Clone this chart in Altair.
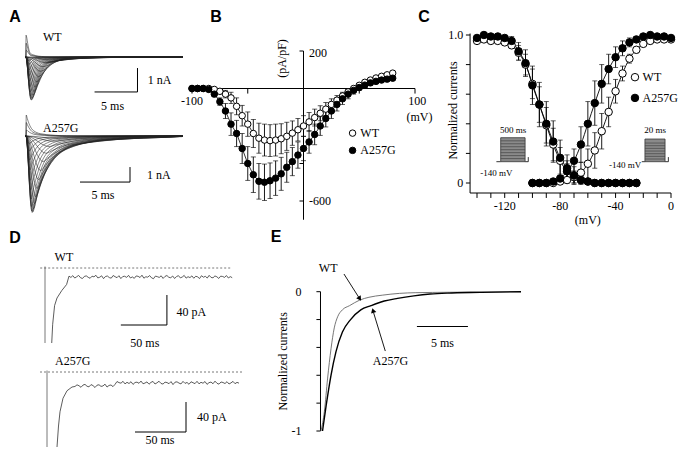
import altair as alt
import pandas as pd

# ---------------- Panel E : normalised Na+ current decays (ms from peak) ----------------
e_t_wt = [0, 0.33, 0.65, 0.98, 1.3, 1.63, 2.1, 2.8, 3.8, 4.7, 6.0, 7.7, 9.3, 12.6, 19.6]
e_wt = [-1, -0.86, -0.62, -0.41, -0.26, -0.18, -0.13, -0.10, -0.06, -0.04, -0.025, -0.012, -0.007, -0.004, 0]
e_t_ko = [0.15, 0.5, 0.98, 1.47, 2.1, 2.9, 3.9, 4.9, 6.2, 7.5, 9.1, 10.7, 12.4, 15.6, 19.6]
e_ko = [-1, -0.82, -0.6, -0.43, -0.29, -0.2, -0.13, -0.1, -0.067, -0.048, -0.03, -0.017, -0.01, -0.005, 0]

# ---------------- Panel A : current families (peak nA, time to peak ms, decay stretch) ----------------
a_wt_peak = [0.05, 0.12, 0.25, 0.42, 0.62, 0.85, 1.08, 1.3, 1.5, 1.66, 1.78, 1.86, 1.87, 1.82,
             1.7, 1.52, 1.3, 1.05, 0.8, 0.55, 0.32, 0.15, -0.3, -0.6, -0.95]
a_ko_peak = [0.15, 0.35, 0.7, 1.15, 1.7, 2.3, 2.9, 3.5, 4.05, 4.5, 4.85, 5.05, 5.1, 5.0,
             4.7, 4.2, 3.6, 2.95, 2.25, 1.6, 1.0, 0.5, -0.4, -0.9, -1.4]
a_tpeak = [3.2, 2.8, 2.4, 2.1, 1.8, 1.55, 1.35, 1.2, 1.05, 0.95, 0.85, 0.78, 0.72, 0.68,
           0.64, 0.6, 0.56, 0.53, 0.5, 0.47, 0.44, 0.4, 0.15, 0.13, 0.12]
a_stretch = [2.4, 2.2, 2.0, 1.8, 1.6, 1.45, 1.3, 1.2, 1.1, 1.0, 0.95, 0.9, 0.85, 0.8,
             0.75, 0.7, 0.66, 0.62, 0.58, 0.55, 0.52, 0.5, 0.35, 0.3, 0.3]

# ---------------- Panel B : I-V relationship (pA/pF) ----------------
b_mv = list(range(-100, 85, 5))
b_wt = [0, 0, 0, 0, -5, -15, -30, -50, -95, -145, -190, -240, -265, -275, -278, -275, -268, -255,
        -238, -220, -200, -178, -155, -132, -110, -85, -62, -40, -18, 0, 17, 33, 45, 56, 65, 73, 82]
b_wt_err = [0, 0, 0, 0, 5, 10, 20, 30, 45, 55, 65, 75, 80, 85, 85, 85, 80, 75, 65, 60, 55, 50, 45,
            40, 35, 30, 25, 20, 15, 12, 10, 8, 8, 8, 8, 8, 8]
b_ko = [0, 0, 0, -5, -30, -70, -120, -190, -240, -320, -400, -460, -495, -500, -492, -478, -455,
        -420, -390, -355, -320, -285, -245, -200, -160, -120, -85, -55, -30, -10, 5, 18, 30, 38, 45, 50, 55]
b_ko_err = [0, 0, 0, 3, 10, 20, 40, 60, 70, 80, 90, 95, 95, 97, 95, 92, 88, 80, 75, 70, 65, 60, 55,
            50, 45, 40, 35, 30, 25, 20, 15, 12, 10, 10, 10, 10, 10]

# ---------------- Panel C : inactivation / activation ----------------
c_in_mv = list(range(-140, -20, 5))
c_in_wt = [0.96, 0.97, 0.96, 0.96, 0.95, 0.93, 0.88, 0.80, 0.67, 0.53, 0.39, 0.26, 0.15, 0.08,
           0.04, 0.02, 0.01, 0, 0, 0, 0, 0, 0, 0]
c_in_wt_err = [0, 0, 0, 0, 0, 0.02, 0.05, 0.07, 0.10, 0.12, 0.12, 0.11, 0.09, 0.07, 0.04, 0.02,
               0, 0, 0, 0, 0, 0, 0, 0]
c_in_ko = [0.98, 1.0, 0.99, 0.99, 0.98, 0.96, 0.89, 0.81, 0.66, 0.53, 0.40, 0.28, 0.17, 0.10,
           0.05, 0.02, 0.01, 0, 0, 0, 0, 0, 0, 0]
c_in_ko_err = [0, 0, 0, 0, 0, 0.03, 0.06, 0.09, 0.13, 0.15, 0.15, 0.14, 0.12, 0.09, 0.06, 0.03,
               0, 0, 0, 0, 0, 0, 0, 0]
c_ac_mv = list(range(-100, 5, 5))
c_ac_wt = [0, 0, 0, 0, 0.01, 0.02, 0.04, 0.07, 0.13, 0.22, 0.35, 0.48, 0.62, 0.74, 0.84, 0.90,
           0.94, 0.96, 0.97, 0.97, 0.97]
c_ac_wt_err = [0, 0, 0, 0, 0, 0.02, 0.04, 0.07, 0.10, 0.12, 0.12, 0.10, 0.08, 0.05, 0.03, 0.02,
               0, 0, 0, 0, 0]
c_ac_ko = [0, 0, 0, 0.01, 0.03, 0.08, 0.15, 0.26, 0.40, 0.54, 0.67, 0.77, 0.85, 0.91, 0.95, 0.97,
           0.99, 1.0, 0.99, 0.99, 0.98]
c_ac_ko_err = [0, 0, 0, 0, 0.02, 0.05, 0.08, 0.12, 0.15, 0.15, 0.13, 0.10, 0.07, 0.05, 0.03, 0.02,
               0, 0, 0, 0, 0]

# ---------------- Panel D : persistent currents (pA) ----------------
d_wt_rise_t = [7, 8, 10, 12.5, 17.5, 22.5]
d_wt_rise = [-100, -75, -50, -40, -30, -22]
d_wt_level = -12
d_ko_rise_t = [10, 11.5, 13, 16, 20, 25]
d_ko_rise = [-100, -72, -53, -35, -25, -20]
d_ko_levels = [(28, -18.5), (68, -14.5)]
d_noise_wt = [1.2, -0.6, 1.8, -1.4, 0.3, 2.1, -0.9, -2.0, 0.8, 1.5, -0.4, -1.7, 1.1, 0.2, 2.3, -1.2,
              -0.3, 1.6, -2.2, 0.7, 1.3, -0.8, -1.5, 2.0, 0.4, -0.9, 1.7, -2.1, 0.6, 1.0, -0.5, 2.2,
              -1.3, 0.1, -1.8, 1.4, 0.9, -0.7, 2.4, -1.6, 0.3, -0.2, 1.9, -1.1, -2.3, 1.2, 0.5, -0.6,
              1.6, -1.9, 0.8, 2.0, -0.4, -1.0, 1.3, -2.0, 0.6, 1.8, -1.2, 0.0, 2.1, -1.5, 0.4, -0.8,
              1.5, -1.7, 1.0, 0.2, -2.1, 1.7, -0.3, 0.9, -1.4, 2.2, -0.6, -1.1, 1.4, 0.3, -1.9, 1.1,
              0.7, -0.5, 1.9, -1.3, 0.5, -0.9]
d_noise_ko = [-0.8, 1.4, 0.2, -1.9, 1.1, 2.0, -0.5, -1.3, 1.7, 0.4, -2.2, 0.9, 1.5, -0.7, -0.1, 2.3,
              -1.6, 0.6, 1.2, -1.0, -2.0, 1.8, 0.3, -0.4, 2.1, -1.4, 0.8, -0.9, 1.6, -2.1, 0.5, 1.0,
              -0.6, 2.4, -1.2, -0.2, 1.3, -1.8, 0.7, 1.9, -1.5, 0.1, 2.2, -0.8, -1.6, 1.0, 0.4, -1.1,
              1.7, -2.3, 0.9, 1.4, -0.3, -1.4, 2.0, -0.7, 0.6, -1.9, 1.5, 0.2, -1.0, 2.1, -1.3, 0.8,
              -0.5, 1.8, -2.0, 0.3, 1.1, -1.2, 2.3, -0.6, -1.7, 1.2, 0.5, -0.9, 1.6, -1.5, 0.0, 2.0,
              -1.1, 0.7, -0.4]

FONT = "Liberation Serif"
L = []


def sc(dom, rng):
    return alt.Scale(domain=dom, range=[r - 8 for r in rng], nice=False, zero=False)


def panel(xdom, xr, ydom, yr):
    return (sc(xdom, xr), sc(ydom, yr))


def xy(p):
    return dict(x=alt.X("x:Q", scale=p[0], axis=None), y=alt.Y("y:Q", scale=p[1], axis=None))


def add_line(p, df, color="black", sw=1.0, dash=None, interp="linear"):
    df = df.copy()
    df["i"] = range(len(df))
    kw = dict(color=color, strokeWidth=sw, interpolate=interp)
    if dash:
        kw["strokeDash"] = dash
    e = xy(p)
    if "g" in df.columns:
        e["detail"] = alt.Detail("g:N")
    e["order"] = alt.Order("i:Q")
    L.append(alt.Chart(df).mark_line(**kw).encode(**e))


def add_rules(p, rows, color="black", sw=1.0, dash=None):
    df = pd.DataFrame(rows, columns=["x", "y", "x2", "y2"])
    kw = dict(color=color, strokeWidth=sw)
    if dash:
        kw["strokeDash"] = dash
    e = xy(p)
    e["x2"] = alt.X2("x2:Q")
    e["y2"] = alt.Y2("y2:Q")
    L.append(alt.Chart(df).mark_rule(**kw).encode(**e))


def add_pts(p, xs, ys, fill, size):
    df = pd.DataFrame({"x": xs, "y": ys})
    L.append(alt.Chart(df).mark_circle(fill=fill, stroke="black", strokeWidth=1, size=size,
                                       opacity=1).encode(**xy(p)))


def add_err(p, xs, ys, errs, cap=5):
    rows = [(x, y - e, x, y + e) for x, y, e in zip(xs, ys, errs) if e > 0]
    add_rules(p, rows, sw=0.9)
    caps = pd.DataFrame([(r[0], r[1]) for r in rows] + [(r[0], r[3]) for r in rows], columns=["x", "y"])
    L.append(alt.Chart(caps).mark_tick(orient="horizontal", size=cap, thickness=0.9,
                                       color="black").encode(**xy(p)))


def add_text(p, rows, size=12, align="center", baseline="middle", angle=0, font=FONT,
             weight="normal"):
    df = pd.DataFrame(rows, columns=["x", "y", "t"])
    L.append(alt.Chart(df).mark_text(font=font, fontSize=size, align=align, baseline=baseline,
                                     angle=angle, fontWeight=weight, color="black")
             .encode(text="t:N", **xy(p)))


def family(peaks, tps, stretches, tt, vv, t_end):
    rows = []
    for k, (a, tp, s) in enumerate(zip(peaks, tps, stretches)):
        rows.append((k, 0.0, 0.0))
        rows.append((k, 0.1, 0.0))
        rows.append((k, tp, -a))
        for t, v in zip(tt[1:], vv[1:]):
            T = tp + s * (t - tt[0])
            if T >= t_end:
                break
            rows.append((k, T, a * v))
        rows.append((k, t_end, 0.0))
    return pd.DataFrame(rows, columns=["g", "x", "y"])


# ---------------- page panel (panel letters) ----------------
PG = panel([0, 687], [0, 687], [0, 457], [0, 457])
add_text(PG, [(15, 17, "A"), (216, 17, "B"), (424, 17, "C"), (15, 238, "D"), (276, 237, "E")],
         size=16, font="Liberation Sans", weight="bold")

# ---------------- Panel A ----------------
AW = panel([0, 18.4], [25, 183], [-2, 1], [103, 34])
AK = panel([0, 15.8], [25, 183], [-6, 2], [226, 106])
add_line(AW, family(a_wt_peak, a_tpeak, a_stretch, e_t_wt, e_wt, 18.4), color="#222", sw=0.55,
         interp="monotone")
add_line(AK, family(a_ko_peak, a_tpeak, [s * 1.1 for s in a_stretch], e_t_ko, e_ko, 15.8),
         color="#222", sw=0.55, interp="monotone")
add_rules(AW, [(13.1, -0.48, 13.1, -1.52), (8.1, -1.52, 13.1, -1.52)])
add_rules(AK, [(10.5, -2.07, 10.5, -3.07), (5.5, -3.07, 10.5, -3.07)])
add_text(AW, [(2.1, 0.87, "WT"), (14.3, -1.0, "1 nA")], align="left")
add_text(AW, [(10.2, -2.15, "5 ms")])
add_text(AK, [(1.8, 0.55, "A257G"), (12.2, -2.6, "1 nA")], align="left")
add_text(AK, [(7.8, -3.95, "5 ms")])

# ---------------- Panel B ----------------
B = panel([-100, 100], [192, 415], [-600, 200], [201, 51])
add_rules(B, [(-100, 0, 100, 0), (0, 200, 0, -700)])
add_rules(B, [(v, 0, v, -27) for v in [-100, -50, 50, 100]])
add_rules(B, [(0, v, -3.6, v) for v in [200, 0, -200, -400, -600]])
add_text(B, [(5, 192, "200"), (5, -600, "-600")], align="left")
add_text(B, [(-100, -68, "-100"), (102, -68, "100"), (104, -150, "(mV)")])
add_text(B, [(-19, 160, "(pA/pF)")], angle=270)
add_err(B, b_mv, b_wt, b_wt_err, cap=5)
add_err(B, b_mv, b_ko, b_ko_err, cap=5)
add_line(B, pd.DataFrame({"x": b_mv, "y": b_wt}), sw=0.8)
add_line(B, pd.DataFrame({"x": b_mv, "y": b_ko}), sw=0.8)
add_pts(B, b_mv, b_wt, "white", 42)
add_pts(B, b_mv, b_ko, "black", 42)
add_pts(B, [44], [-238], "white", 42)
add_pts(B, [44], [-330], "black", 42)
add_text(B, [(51, -238, "WT"), (51, -330, "A257G")], align="left")

# ---------------- Panel C ----------------
C = panel([-140, 0], [477, 671], [0, 1], [183, 35])
add_rules(C, [(-145, -0.0676, 0, -0.0676), (-145, -0.0676, -145, 1.01)])
add_rules(C, [(v, -0.0676, v, -0.101) for v in range(-140, 10, 10)])
add_rules(C, [(-145, v, -148, v) for v in [0, 0.2, 0.4, 0.6, 0.8, 1.0]])
add_text(C, [(-150, 1.0, "1.0"), (-150, 0.0, "0")], align="right")
add_text(C, [(v, -0.155, str(v)) for v in [-120, -80, -40, 0]])
add_text(C, [(-60, -0.25, "(mV)")])
add_text(C, [(-157, 0.49, "Normalized currents")], angle=270)
# protocol insets
add_rules(C, [(-126, 0.144, -122.9, 0.144), (-105.3, 0.144, -103, 0.144),
              (-103, 0.144, -103, 0.175), (-21.1, 0.144, -18.8, 0.144),
              (-4.3, 0.144, -1.9, 0.144), (-1.9, 0.144, -1.9, 0.175)], sw=0.8)
box_df = pd.DataFrame({"x": [-122.9, -18.8], "x2": [-105.3, -4.3], "y": [0.144, 0.144],
                       "y2": [0.306, 0.297]})
be = xy(C)
be["x2"] = alt.X2("x2:Q")
be["y2"] = alt.Y2("y2:Q")
L.append(alt.Chart(box_df).mark_rect(fill="#8a8a8a", stroke="#333", strokeWidth=0.8).encode(**be))
add_rules(C, [(-122.9, v, -105.3, v) for v in [0.165, 0.185, 0.205, 0.225, 0.245, 0.265, 0.285]]
          + [(-18.8, v, -4.3, v) for v in [0.162, 0.18, 0.198, 0.216, 0.234, 0.252, 0.27]],
          color="#444", sw=0.7)
add_text(C, [(-114, 0.36, "500 ms"), (-11.5, 0.36, "20 ms"), (-126, 0.07, "-140 mV")], size=9)
add_text(C, [(-21.5, 0.12, "-140 mV")], size=9, align="right")
add_err(C, c_in_mv, c_in_wt, c_in_wt_err, cap=5)
add_err(C, c_in_mv, c_in_ko, c_in_ko_err, cap=5)
add_err(C, c_ac_mv, c_ac_wt, c_ac_wt_err, cap=5)
add_err(C, c_ac_mv, c_ac_ko, c_ac_ko_err, cap=5)
for xs_, ys_ in [(c_in_mv, c_in_wt), (c_in_mv, c_in_ko), (c_ac_mv, c_ac_wt), (c_ac_mv, c_ac_ko)]:
    add_line(C, pd.DataFrame({"x": xs_, "y": ys_}), sw=0.9, interp="monotone")
add_pts(C, c_in_mv, c_in_wt, "white", 56)
add_pts(C, c_ac_mv, c_ac_wt, "white", 56)
add_pts(C, c_in_mv, c_in_ko, "black", 56)
add_pts(C, c_ac_mv, c_ac_ko, "black", 56)
add_pts(C, [-26], [0.715], "white", 56)
add_pts(C, [-26], [0.575], "black", 56)
add_text(C, [(-20.5, 0.715, "WT"), (-20.5, 0.575, "A257G")], size=12, align="left")

# ---------------- Panel D ----------------
DW = panel([0, 190], [45, 227.4], [-110, 20], [350.5, 253])
DK = panel([0, 190], [47, 237], [-110, 20], [454.5, 357])
add_rules(DW, [(-5, 0, 195, 0)], color="#555", sw=0.8, dash=[2, 2])
add_rules(DK, [(-7, 0, 196, 0)], color="#555", sw=0.8, dash=[2, 2])
add_rules(DW, [(0, 2, 0, -100)], color="#555", sw=0.8)
add_rules(DK, [(0, 2, 0, -100)], color="#555", sw=0.8)
wt_t = d_wt_rise_t + [25 + 2 * i for i in range(len(d_noise_wt))]
wt_v = d_wt_rise + [d_wt_level + n for n in d_noise_wt]
add_line(DW, pd.DataFrame({"x": wt_t, "y": wt_v}), color="#333", sw=0.8)
ko_tt = [28 + 2 * i for i in range(len(d_noise_ko))]
ko_lv = [d_ko_levels[0][1] if t < d_ko_levels[1][0] else d_ko_levels[1][1] for t in ko_tt]
ko_t = d_ko_rise_t + ko_tt
ko_v = d_ko_rise + [lv + n for lv, n in zip(ko_lv, d_noise_ko)]
add_line(DK, pd.DataFrame({"x": ko_t, "y": ko_v}), color="#333", sw=0.8)
add_rules(DW, [(127, -36, 127, -76), (79, -76, 127, -76)])
add_rules(DK, [(139, -40, 139, -80), (88, -80, 139, -80)])
add_text(DW, [(10, 15, "WT"), (137, -58, "40 pA")], align="left")
add_text(DW, [(104, -100, "50 ms")])
add_text(DK, [(8, 15, "A257G"), (150, -60, "40 pA")], align="left")
add_text(DK, [(113, -91, "50 ms")])

# ---------------- Panel E ----------------
E = panel([0, 19.6], [321, 521], [-1, 0], [431, 291.7])
add_rules(E, [(-0.05, 0, -0.05, -1)])
add_rules(E, [(-0.05, v, -0.45, v) for v in [0, -0.2, -0.4, -0.6, -0.8, -1]])
add_text(E, [(-1.9, 0, "0"), (-1.9, -1, "-1")], align="right")
add_text(E, [(-3.7, -0.5, "Normalized currents")], angle=270)
add_line(E, pd.DataFrame({"x": e_t_wt, "y": e_wt}), color="#666", sw=0.9, interp="monotone")
add_line(E, pd.DataFrame({"x": e_t_ko, "y": e_ko}), color="black", sw=1.4, interp="monotone")
add_rules(E, [(9.4, -0.25, 14.4, -0.25)], sw=1.2)
add_text(E, [(11.9, -0.37, "5 ms")])
add_rules(E, [(2.25, 0.127, 3.7, -0.04), (6.3, -0.426, 5.15, -0.15)], sw=0.9)
arr = pd.DataFrame({"x": [3.8, 5.1], "y": [-0.05, -0.135], "a": [146, 343]})
ae = xy(E)
ae["angle"] = alt.Angle("a:Q", scale=None)
L.append(alt.Chart(arr).mark_point(shape="triangle-up", filled=True, color="black", size=30,
                                   opacity=1).encode(**ae))
add_text(E, [(0.7, 0.17, "WT"), (6.8, -0.5, "A257G")])

chart = alt.layer(*L).resolve_scale(x="independent", y="independent").properties(
    width=671, height=441, autosize=alt.AutoSizeParams(type="none"), padding=0,
    background="white").configure_view(stroke=None)

chart.save("out.html", embed_options={"renderer": "svg", "actions": False})
